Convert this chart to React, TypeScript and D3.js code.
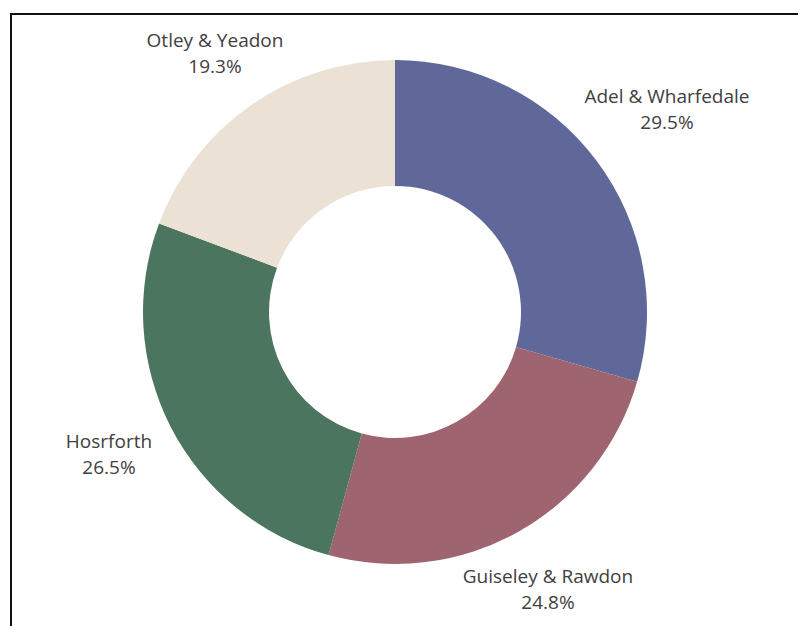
import React from "react";
import * as d3 from "d3";

const categories = ["Adel & Wharfedale", "Guiseley & Rawdon", "Hosrforth", "Otley & Yeadon"];
const values = [29.5, 24.8, 26.5, 19.3];
const colors = ["#5f6899", "#9e6470", "#4c7560", "#ebe2d5"];
const labelPos: [number, number][] = [[667, 103], [548, 583], [109, 448], [215, 47]];

export default function App() {
  const W = 798, H = 626;
  const cx = 395, cy = 312, R = 252, r = 126;
  const pie = d3.pie<number>().sort(null).value((d) => d);
  const arcs = pie(values);
  const arc = d3.arc<d3.PieArcDatum<number>>().innerRadius(r).outerRadius(R);
  return (
    <svg width={W} height={H} style={{ position: "absolute", left: 0, top: 0 }}>
      <rect x={0} y={0} width={W} height={H} fill="#fff" />
      <rect x={11} y={14} width={W + 20} height={H + 20} fill="none" stroke="#111" strokeWidth={2} />
      <g transform={`translate(${cx},${cy})`}>
        {arcs.map((a, i) => (
          <path key={i} d={arc(a) || ""} fill={colors[i]} />
        ))}
      </g>
      {categories.map((c, i) => (
        <text key={c} x={labelPos[i][0]} y={labelPos[i][1]} textAnchor="middle"
          fontFamily="'Open Sans', sans-serif" fontSize={19} fill="#404040">
          <tspan x={labelPos[i][0]}>{c}</tspan>
          <tspan x={labelPos[i][0]} dy="26">{values[i].toFixed(1)}%</tspan>
        </text>
      ))}
    </svg>
  );
}
